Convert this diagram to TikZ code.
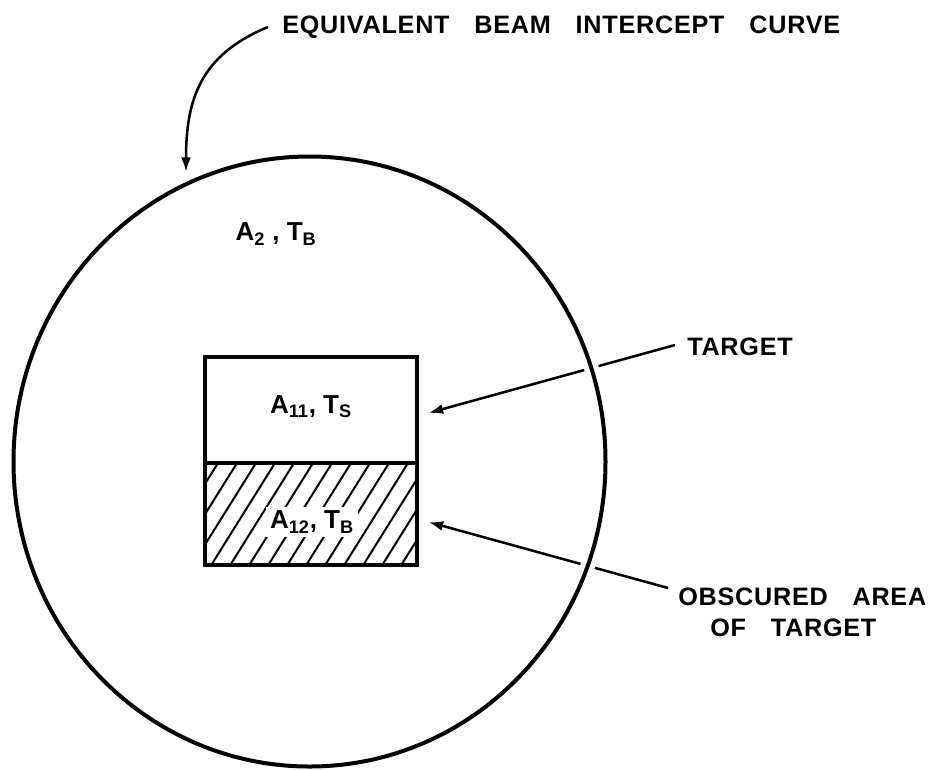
\documentclass[tikz,border=0pt]{standalone}
\usepackage{fontspec}
\setmainfont{Liberation Sans}
\newfontfamily\lfont{Liberation Sans}[WordSpace=3.2, LetterSpace=3]
\newfontfamily\ifont{Liberation Sans}
\usetikzlibrary{arrows.meta}
\begin{document}
\begin{tikzpicture}[x=0.75pt,y=-0.75pt,
  lbl/.style={font=\lfont\fontsize{18.9}{22}\selectfont\bfseries, inner sep=0pt},
  ilbl/.style={font=\ifont\fontsize{19.5}{22}\selectfont\bfseries, inner sep=0pt},
  lead/.style={line width=1.9pt, -{Latex[length=11pt,width=7.5pt]}},
  box/.style={draw, line width=2.3pt, minimum width=159pt, inner sep=0pt},
  hatch/.style={line width=1.5pt},
  beam/.style={line width=3pt, preaction={draw=white, line width=11pt}}]
\useasboundingbox (0,0) rectangle (928,769);

% labels
\node[lbl, anchor=west] (curve) at (282,27) {EQUIVALENT BEAM INTERCEPT CURVE};
\node[lbl, anchor=west] (tgt) at (687,347) {TARGET};
\node[lbl, anchor=west] (obs1) at (678,597) {OBSCURED AREA};
\node[lbl, anchor=west] (obs2) at (710,628) {OF TARGET};
\node[ilbl] (a2) at (276,234) {A\textsubscript{2} , T\textsubscript{B}};

% target boxes
\node[box, minimum height=79.5pt] (up) at (311,410) {};
\node[box, minimum height=76.5pt] (lo) at (311,514) {};
\begin{scope}
  \clip (lo.south west) rectangle (lo.north east);
  \foreach \k in {-4,...,12} \draw[hatch] (205+\k*19,575) -- ++(75,-120);
\end{scope}
\node[ilbl] (a11) at (311,407) {A\textsubscript{11}, T\textsubscript{S}};
\node[ilbl, fill=white, inner sep=3pt] (a12) at (312,522) {A\textsubscript{12}, T\textsubscript{B}};

% leaders
\coordinate (ctip) at (186,172);
\draw[lead] ([xshift=-10.5pt]curve.west) .. controls (200,55) and (186,100) .. (ctip);
\draw[lead] ([xshift=-9pt,yshift=1.5pt]tgt.west) -- ([xshift=7.5pt,yshift=-2.25pt]up.east);
\draw[lead] ([xshift=-7.5pt,yshift=6.75pt]obs1.west) -- ([xshift=7.5pt,yshift=-6pt]lo.east);

% equivalent beam intercept curve
\draw[beam] (309.5,461.5) ellipse [x radius=296, y radius=305];
\end{tikzpicture}
\end{document}
